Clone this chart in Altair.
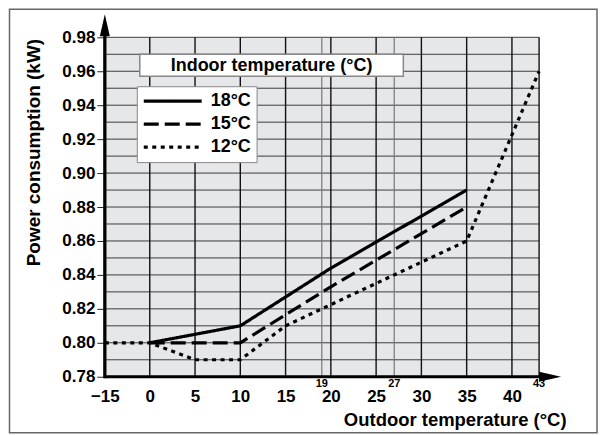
import altair as alt
import pandas as pd

FONT = "Liberation Sans"

# ---- data ----
series_names = ["18°C", "15°C", "12°C"]
out_18 = [0, 10, 20, 35]
pow_18 = [0.80, 0.81, 0.844, 0.89]
out_15 = [0, 10, 20, 35]
pow_15 = [0.80, 0.80, 0.833, 0.88]
out_12 = [-15, 0, 5, 10, 15, 35, 43]
pow_12 = [0.80, 0.80, 0.79, 0.79, 0.81, 0.86, 0.96]

x_tick_labels = [-15, 0, 5, 10, 15, 20, 25, 30, 35, 40]
x_minor_labels = [19, 27, 43]
x_major_grid = [0, 5, 10, 15, 20, 25, 30, 35, 40, 43]
x_minor_grid = [19, 27]
y_tick_labels = [0.78, 0.80, 0.82, 0.84, 0.86, 0.88, 0.90, 0.92, 0.94, 0.96, 0.98]
y_grid = [0.78, 0.79, 0.80, 0.81, 0.82, 0.83, 0.84, 0.85, 0.86, 0.87, 0.88,
          0.89, 0.90, 0.91, 0.92, 0.93, 0.94, 0.95, 0.96, 0.97, 0.98]

rows = []
for name, xs, ys in [("18°C", out_18, pow_18), ("15°C", out_15, pow_15), ("12°C", out_12, pow_12)]:
    for i, (a, b) in enumerate(zip(xs, ys)):
        rows.append({"t": a, "p": b, "series": name, "order": i})
lines_df = pd.DataFrame(rows)

W, H = 435, 340
# the original axis is compressed between -15 and 0 (broken scale)
xscale = alt.Scale(domain=[-15, 0, 43], range=[0, 45, 435], nice=False, zero=False)
yscale = alt.Scale(domain=[0.78, 0.98], nice=False, zero=False)

xaxis = alt.Axis(
    values=x_tick_labels, format="d", domain=False, ticks=False, tickSize=0, grid=False,
    labelFont=FONT, labelFontSize=17, labelFontWeight="bold", labelColor="black",
    labelPadding=25, labelBaseline="alphabetic", labelFlush=False, labelOverlap=False,
    title="Outdoor temperature (°C)", titleFont=FONT, titleFontSize=18.5,
    titleFontWeight="bold", titleColor="black", titleX=462, titleY=49,
    titleAlign="right", titleBaseline="alphabetic",
)
yaxis = alt.Axis(
    values=y_tick_labels, format=".2f", domain=False, ticks=True, tickSize=8,
    tickColor="#222", tickWidth=1, grid=False,
    labelFont=FONT, labelFontSize=17, labelFontWeight="bold", labelColor="black",
    labelPadding=2, labelOverlap=False,
    title="Power consumption (kW)", titleFont=FONT, titleFontSize=19,
    titleFontWeight="bold", titleColor="black", titleX=-71, titleY=115,
    titleAngle=270, titleAlign="center", titleBaseline="middle",
)

one = pd.DataFrame({"k": [0]})

hgrid = alt.Chart(pd.DataFrame({"p": y_grid})).mark_rule(color="#3c3c3c", strokeWidth=1).encode(
    y=alt.Y("p:Q", scale=yscale, axis=yaxis)
)
vgrid_major = alt.Chart(pd.DataFrame({"t": x_major_grid})).mark_rule(color="#111", strokeWidth=1.4).encode(
    x=alt.X("t:Q", scale=xscale, axis=xaxis)
)
vgrid_minor = alt.Chart(pd.DataFrame({"t": x_minor_grid})).mark_rule(color="#777", strokeWidth=1.2).encode(
    x=alt.X("t:Q", scale=xscale, axis=xaxis)
)

lines = alt.Chart(lines_df).mark_line(color="black").encode(
    x=alt.X("t:Q", scale=xscale, axis=xaxis),
    y=alt.Y("p:Q", scale=yscale, axis=yaxis),
    detail="series:N",
    order="order:Q",
    strokeWidth=alt.StrokeWidth(
        "series:N",
        scale=alt.Scale(domain=series_names, range=[3.2, 3.2, 3.8]),
        legend=None,
    ),
    strokeDash=alt.StrokeDash(
        "series:N",
        scale=alt.Scale(domain=series_names, range=[[1, 0], [15, 6], [4, 4.5]]),
        legend=alt.Legend(
            title=None, orient="none", legendX=32, legendY=49,
            fillColor="white", strokeColor="#888", padding=5,
            symbolType="stroke", symbolSize=3364, symbolStrokeWidth=3.4,
            clipHeight=20, rowPadding=3,
            labelFont=FONT, labelFontSize=18, labelFontWeight="bold",
            labelColor="black", labelOffset=7,
        ),
    ),
)

minor_labels = alt.Chart(pd.DataFrame({"t": x_minor_labels})).mark_text(
    font=FONT, fontSize=11, fontWeight="bold", color="black", baseline="alphabetic"
).encode(
    x=alt.X("t:Q", scale=xscale, axis=xaxis),
    y=alt.value(350),
    text=alt.Text("t:Q", format="d"),
)

y_axis_line = alt.Chart(one).mark_rule(color="black", strokeWidth=3.3).encode(
    x=alt.value(0), y=alt.value(341.5), y2=alt.value(-3)
)
x_axis_line = alt.Chart(one).mark_rule(color="black", strokeWidth=3).encode(
    x=alt.value(0), x2=alt.value(440), y=alt.value(340)
)
y_arrow = alt.Chart(one).mark_point(
    shape="M0,-1L0.4545,1L-0.4545,1Z", filled=True, size=484, color="black", opacity=1
).encode(x=alt.value(0), y=alt.value(-12))
x_arrow = alt.Chart(one).mark_point(
    shape="M1,0L-1,0.4545L-1,-0.4545Z", filled=True, size=484, color="black", opacity=1
).encode(x=alt.value(446), y=alt.value(340))

title_box = alt.Chart(one).mark_rect(fill="white", stroke="#888", strokeWidth=1.5).encode(
    x=alt.value(35), x2=alt.value(299), y=alt.value(17), y2=alt.value(39)
)
title_text = alt.Chart(one).mark_text(
    text="Indoor temperature (°C)", font=FONT, fontSize=18, fontWeight="bold",
    color="black", baseline="middle", align="center"
).encode(x=alt.value(167), y=alt.value(28.5))

frame = alt.Chart(one).mark_rect(fillOpacity=0, stroke="#666", strokeWidth=1.5).encode(
    x=alt.value(-95.5), x2=alt.value(493), y=alt.value(-28), y2=alt.value(396)
)

chart = alt.layer(
    hgrid, vgrid_minor, vgrid_major, lines, minor_labels,
    y_axis_line, x_axis_line, y_arrow, x_arrow, title_box, title_text, frame,
).properties(
    width=W, height=H,
    autosize=alt.AutoSizeParams(type="none"),
    padding={"left": 97, "top": 29, "right": 60, "bottom": 58},
    background="white",
).configure_view(fill="#e6e7e8", strokeWidth=0)

chart.save("out.html", embed_options={"renderer": "svg", "actions": False})
